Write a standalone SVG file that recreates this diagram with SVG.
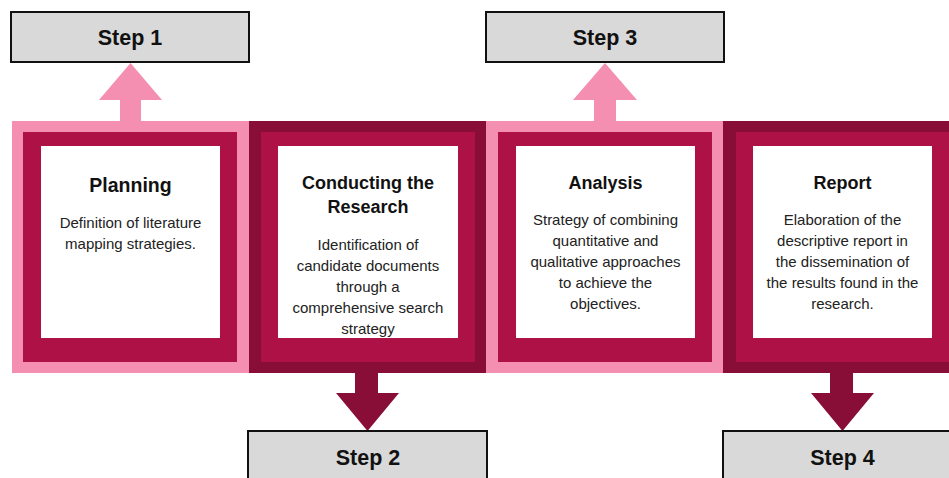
<svg xmlns="http://www.w3.org/2000/svg" width="949" height="478" viewBox="0 0 949 478">
<style>
.pink{fill:#f48fb1}
.maroon{fill:#880e38}
.crimson{fill:#ad1145}
.white{fill:#ffffff}
.step rect{fill:#d9d9d9;stroke:#111;stroke-width:2}
.step text{font-family:"Liberation Sans",Arial,sans-serif;font-weight:bold;font-size:21.5px;fill:#111;text-anchor:middle}
.title{font-family:"Liberation Sans",Arial,sans-serif;font-weight:bold;font-size:18px;fill:#111;text-anchor:middle}
.body{font-family:"Liberation Sans",Arial,sans-serif;font-size:15px;fill:#222;text-anchor:middle}
</style>
<rect width="949" height="478" fill="#ffffff"/>
<g id="connectors">
<polygon class="pink" points="120,122 120,100 99,100 130.5,63 162,100 141,100 141,122"/>
<polygon class="pink" points="594,122 594,100 573,100 605,63 637,100 616,100 616,122"/>
<polygon class="maroon" points="355,372 355,393 336,393 367.5,431 399,393 378,393 378,372"/>
<polygon class="maroon" points="830,372 830,393 811,393 842.5,431 874,393 853,393 853,372"/>
</g>
<g id="planning">
<rect class="pink" x="12" y="121" width="237" height="252"/>
<rect class="crimson" x="23" y="132" width="214" height="230"/>
<rect class="white" x="41" y="146" width="179" height="192"/>
<text class="title" x="130.5" y="192" style="font-size:19.5px">Planning</text>
<text class="body" x="130.5" y="228">Definition of literature</text>
<text class="body" x="130.5" y="249">mapping strategies.</text>
</g>
<g id="conducting">
<rect class="maroon" x="249" y="121" width="237" height="252"/>
<rect class="crimson" x="261" y="132" width="214" height="230"/>
<rect class="white" x="278" y="146" width="180" height="192"/>
<text class="title" x="368" y="189">Conducting the</text>
<text class="title" x="368" y="213">Research</text>
<text class="body" x="368" y="250">Identification of</text>
<text class="body" x="368" y="271">candidate documents</text>
<text class="body" x="368" y="292">through a</text>
<text class="body" x="368" y="313">comprehensive search</text>
<text class="body" x="368" y="334">strategy</text>
</g>
<g id="analysis">
<rect class="pink" x="486" y="121" width="237" height="252"/>
<rect class="crimson" x="498" y="132" width="214" height="230"/>
<rect class="white" x="516" y="146" width="179" height="192"/>
<text class="title" x="605.5" y="189">Analysis</text>
<text class="body" x="605.5" y="225">Strategy of combining</text>
<text class="body" x="605.5" y="246">quantitative and</text>
<text class="body" x="605.5" y="267">qualitative approaches</text>
<text class="body" x="605.5" y="288">to achieve the</text>
<text class="body" x="605.5" y="309">objectives.</text>
</g>
<g id="report">
<rect class="maroon" x="723" y="121" width="240" height="252"/>
<rect class="crimson" x="736" y="132" width="213" height="230"/>
<rect class="white" x="753" y="146" width="179" height="192"/>
<text class="title" x="842.5" y="189">Report</text>
<text class="body" x="842.5" y="225">Elaboration of the</text>
<text class="body" x="842.5" y="246">descriptive report in</text>
<text class="body" x="842.5" y="267">the dissemination of</text>
<text class="body" x="842.5" y="288">the results found in the</text>
<text class="body" x="842.5" y="309">research.</text>
</g>
<g id="step1" class="step">
<rect x="11" y="12" width="238" height="50"/>
<text x="130" y="44.5">Step 1</text>
</g>
<g id="step3" class="step">
<rect x="486" y="12" width="238" height="50"/>
<text x="605" y="44.5">Step 3</text>
</g>
<g id="step2" class="step">
<rect x="248" y="431" width="239" height="60"/>
<text x="368" y="465">Step 2</text>
</g>
<g id="step4" class="step">
<rect x="723" y="431" width="240" height="60"/>
<text x="842.5" y="465">Step 4</text>
</g>
</svg>
